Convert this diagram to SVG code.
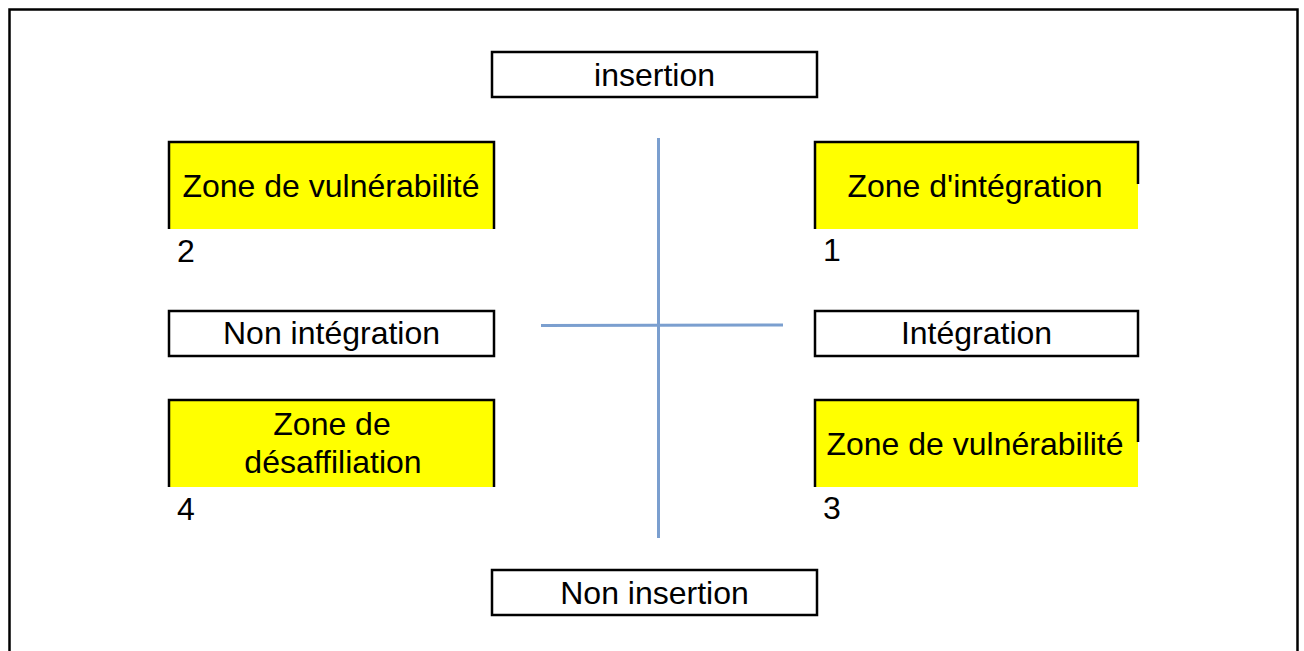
<svg xmlns="http://www.w3.org/2000/svg" width="1304" height="651" viewBox="0 0 1304 651">
<style>
text{font-family:"Liberation Sans",Arial,sans-serif;font-size:32px;fill:#000}
.c{text-anchor:middle}
.box{fill:#fff;stroke:#000;stroke-width:2.5}
.zone{fill:#ffff00}
.edge{fill:none;stroke:#000;stroke-width:2.5}
.axis{stroke:#7b9fcf;stroke-width:3;fill:none}
</style>
<rect x="0" y="0" width="1304" height="651" fill="#fff"/>
<path d="M9.5,660 V9.5 H1297.5 V660" fill="none" stroke="#000" stroke-width="2.5"/>
<g id="connectors">
<line class="axis" x1="658.5" y1="138" x2="658.5" y2="538"/>
<line class="axis" x1="541" y1="325.5" x2="783" y2="325" stroke-width="2.5"/>
</g>
<g id="insertion"><rect class="box" x="492" y="52" width="325" height="45"/><text class="c" x="654.5" y="86">insertion</text></g>
<g id="non-insertion"><rect class="box" x="492" y="570" width="325" height="45"/><text class="c" x="654.5" y="604">Non insertion</text></g>
<g id="non-integration"><rect class="box" x="169" y="311" width="325" height="45"/><text class="c" x="331.5" y="344">Non intégration</text></g>
<g id="integration"><rect class="box" x="815" y="311" width="323" height="45"/><text class="c" x="976.5" y="344">Intégration</text></g>
<g id="zone2"><rect class="zone" x="169" y="142" width="325" height="87"/><path class="edge" d="M169,229 V142 H494 V229"/><text class="c" x="331" y="197">Zone de vulnérabilité</text><text x="177" y="262">2</text></g>
<g id="zone1"><rect class="zone" x="815" y="142" width="323" height="87"/><path class="edge" d="M815,229 V142 H1138 V184"/><text class="c" x="975" y="197">Zone d'intégration</text><text x="823" y="261">1</text></g>
<g id="zone4"><rect class="zone" x="169" y="400" width="325" height="87"/><path class="edge" d="M169,487 V400 H494 V487"/><text class="c" x="332" y="435">Zone de</text><text class="c" x="333" y="473">désaffiliation</text><text x="177" y="520">4</text></g>
<g id="zone3"><rect class="zone" x="815" y="400" width="323" height="87"/><path class="edge" d="M815,487 V400 H1138 V442"/><text class="c" x="975" y="455">Zone de vulnérabilité</text><text x="823" y="519">3</text></g>
</svg>
